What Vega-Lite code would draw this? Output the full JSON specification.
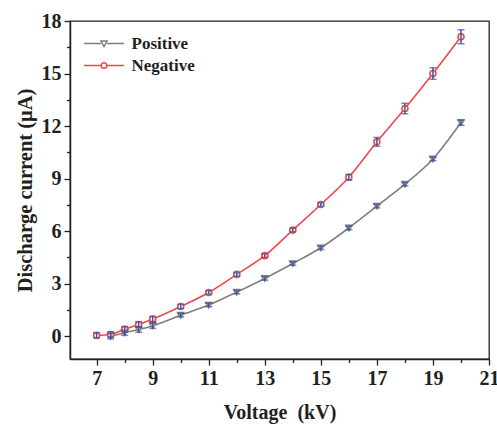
{
  "$schema": "https://vega.github.io/schema/vega-lite/v6.json",
  "autosize": "none",
  "width": 419,
  "height": 338,
  "padding": {"left": 70, "top": 21, "right": 8, "bottom": 67},
  "background": "white",
  "config": {
    "view": {"stroke": "#222222", "strokeWidth": 1.3},
    "font": "Liberation Serif",
    "axis": {
      "domainColor": "#222222",
      "domainWidth": 1.5,
      "tickColor": "#222222",
      "tickWidth": 1.3,
      "grid": false,
      "labelFont": "Liberation Serif",
      "labelFontWeight": "bold",
      "labelFontSize": 20,
      "labelColor": "#231f20",
      "titleFont": "Liberation Serif",
      "titleFontWeight": "bold",
      "titleFontSize": 20,
      "titleColor": "#231f20"
    }
  },
  "data": {
    "values": [
      {"series": "Negative", "v": 7, "i": 0.05, "lo": -0.1, "hi": 0.2},
      {"series": "Negative", "v": 7.5, "i": 0.1, "lo": -0.05, "hi": 0.25},
      {"series": "Negative", "v": 8, "i": 0.4, "lo": 0.25, "hi": 0.55},
      {"series": "Negative", "v": 8.5, "i": 0.67, "lo": 0.52, "hi": 0.82},
      {"series": "Negative", "v": 9, "i": 0.98, "lo": 0.83, "hi": 1.13},
      {"series": "Negative", "v": 10, "i": 1.7, "lo": 1.58, "hi": 1.82},
      {"series": "Negative", "v": 11, "i": 2.5, "lo": 2.4, "hi": 2.6},
      {"series": "Negative", "v": 12, "i": 3.53, "lo": 3.43, "hi": 3.63},
      {"series": "Negative", "v": 13, "i": 4.6, "lo": 4.5, "hi": 4.7},
      {"series": "Negative", "v": 14, "i": 6.06, "lo": 5.96, "hi": 6.16},
      {"series": "Negative", "v": 15, "i": 7.52, "lo": 7.42, "hi": 7.62},
      {"series": "Negative", "v": 16, "i": 9.08, "lo": 8.92, "hi": 9.24},
      {"series": "Negative", "v": 17, "i": 11.1, "lo": 10.85, "hi": 11.35},
      {"series": "Negative", "v": 18, "i": 13.0, "lo": 12.7, "hi": 13.3},
      {"series": "Negative", "v": 19, "i": 15.0, "lo": 14.67, "hi": 15.33},
      {"series": "Negative", "v": 20, "i": 17.1, "lo": 16.7, "hi": 17.5},
      {"series": "Positive", "v": 7.5, "i": 0.0, "lo": -0.15, "hi": 0.15},
      {"series": "Positive", "v": 8, "i": 0.2, "lo": 0.05, "hi": 0.35},
      {"series": "Positive", "v": 8.5, "i": 0.38, "lo": 0.23, "hi": 0.53},
      {"series": "Positive", "v": 9, "i": 0.6, "lo": 0.45, "hi": 0.75},
      {"series": "Positive", "v": 10, "i": 1.2, "lo": 1.1, "hi": 1.3},
      {"series": "Positive", "v": 11, "i": 1.78, "lo": 1.68, "hi": 1.88},
      {"series": "Positive", "v": 12, "i": 2.52, "lo": 2.42, "hi": 2.62},
      {"series": "Positive", "v": 13, "i": 3.3, "lo": 3.2, "hi": 3.4},
      {"series": "Positive", "v": 14, "i": 4.15, "lo": 4.05, "hi": 4.25},
      {"series": "Positive", "v": 15, "i": 5.05, "lo": 4.95, "hi": 5.15},
      {"series": "Positive", "v": 16, "i": 6.18, "lo": 6.08, "hi": 6.28},
      {"series": "Positive", "v": 17, "i": 7.43, "lo": 7.33, "hi": 7.53},
      {"series": "Positive", "v": 18, "i": 8.68, "lo": 8.58, "hi": 8.78},
      {"series": "Positive", "v": 19, "i": 10.12, "lo": 10.02, "hi": 10.22},
      {"series": "Positive", "v": 20, "i": 12.2, "lo": 12.05, "hi": 12.35}
    ]
  },
  "encoding": {
    "x": {
      "field": "v",
      "type": "quantitative",
      "scale": {"domain": [6.05, 21], "nice": false, "zero": false},
      "axis": {
        "title": "Voltage\u00a0\u00a0(kV)",
        "values": [7, 8, 9, 10, 11, 12, 13, 14, 15, 16, 17, 18, 19, 20, 21],
        "labelExpr": "datum.value % 2 == 1 ? datum.label : ''",
        "tickSize": {"expr": "datum.value % 2 == 1 ? 6 : 3.5"},
        "labelPadding": 3,
        "titlePadding": 14,
        "labelFlush": false
      }
    },
    "y": {
      "field": "i",
      "type": "quantitative",
      "scale": {"domain": [-1.3, 18], "nice": false, "zero": false},
      "axis": {
        "title": "Discharge current (μA)",
        "titleFontSize": 20.5,
        "values": [0, 1.5, 3, 4.5, 6, 7.5, 9, 10.5, 12, 13.5, 15, 16.5, 18],
        "labelExpr": "datum.value % 3 == 0 ? datum.label : ''",
        "tickSize": {"expr": "datum.value % 3 == 0 ? 6 : 3.5"},
        "labelPadding": 3,
        "titlePadding": 6,
        "labelFlush": false
      }
    }
  },
  "layer": [
    {
      "mark": {"type": "line", "strokeWidth": 1.6, "interpolate": "monotone"},
      "encoding": {
        "color": {
          "field": "series",
          "type": "nominal",
          "scale": {"domain": ["Positive", "Negative"], "range": ["#7f7f7f", "#f0474b"]},
          "legend": {
            "title": null,
            "orient": "none",
            "legendX": 25.5,
            "legendY": 14,
            "padding": 0,
            "symbolType": "M-4,0L4,0",
            "symbolSize": 100,
            "symbolStrokeWidth": 1.5,
            "symbolFillColor": "white",
            "labelFont": "Liberation Serif",
            "labelFontWeight": "bold",
            "labelFontSize": 17,
            "labelColor": "#231f20",
            "labelOffset": 19,
            "rowPadding": 4,
            "encode": {
              "symbols": {
                "update": {
                  "shape": {"signal": "datum.value == 'Positive' ? 'M-4,0L-0.65,0M0.65,0L4,0M-0.62,-0.5L0.62,-0.5L0,0.6Z' : 'M-4,0L-0.55,0M0.55,0L4,0M-0.55,0A0.55,0.55 0 1,0 0.55,0A0.55,0.55 0 1,0 -0.55,0Z'"},
                  "fill": {"value": "white"}
                }
              }
            }
          }
        }
      }
    },
    {
      "transform": [{"filter": "datum.series == 'Positive'"}],
      "mark": {"type": "point", "shape": "triangle-down", "filled": false, "fill": "white", "fillOpacity": 1, "size": 36, "strokeWidth": 1.6, "opacity": 1},
      "encoding": {
        "color": {"field": "series", "type": "nominal"}
      }
    },
    {
      "transform": [{"filter": "datum.series == 'Negative'"}],
      "mark": {"type": "point", "shape": "circle", "filled": false, "fill": "white", "fillOpacity": 1, "size": 36, "strokeWidth": 1.6, "opacity": 1},
      "encoding": {
        "color": {"field": "series", "type": "nominal"}
      }
    },
    {
      "mark": {"type": "errorbar", "ticks": {"size": 7}, "thickness": 1.5, "color": "#3953a4"},
      "encoding": {
        "y": {"field": "lo", "type": "quantitative"},
        "y2": {"field": "hi"}
      }
    }
  ]
}
